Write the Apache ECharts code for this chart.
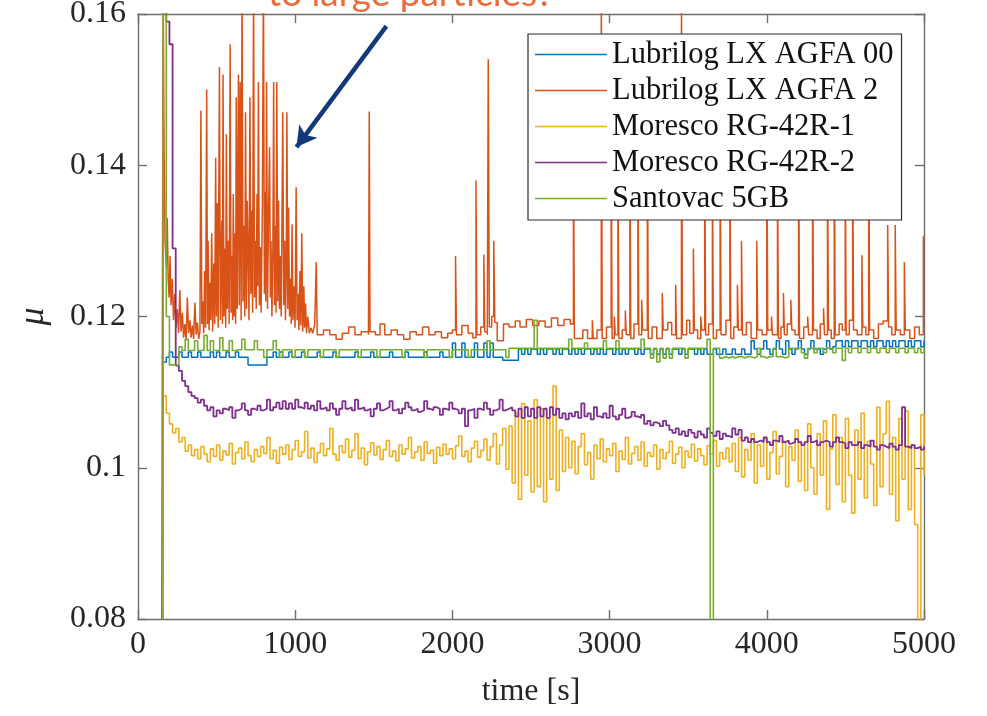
<!DOCTYPE html>
<html><head><meta charset="utf-8">
<script src="https://cdn.jsdelivr.net/npm/echarts@6/dist/echarts.min.js"></script>
<style>html,body{margin:0;padding:0;background:#fff}#c{width:987px;height:716px}</style>
</head><body><div id="c"></div>
<script>
// sample times [s] shared by four traces
const times = [140,
160,180,200,220,240,260,280,300,320,340,
360,380,400,420,440,460,480,500,520,540,
560,580,600,620,640,660,680,700,720,740,
760,780,800,820,840,860,880,900,920,940,
960,980,1000,1020,1040,1060,1080,1100,1120,1140,
1160,1180,1200,1220,1240,1260,1280,1300,1320,1340,
1360,1380,1400,1420,1440,1460,1480,1500,1520,1540,
1560,1580,1600,1620,1640,1660,1680,1700,1720,1740,
1760,1780,1800,1820,1840,1860,1880,1900,1920,1940,
1960,1980,2000,2020,2040,2060,2080,2100,2120,2140,
2160,2180,2200,2220,2240,2260,2280,2300,2320,2340,
2360,2380,2400,2420,2440,2460,2480,2500,2520,2540,
2560,2580,2600,2620,2640,2660,2680,2700,2720,2740,
2760,2780,2800,2820,2840,2860,2880,2900,2920,2940,
2960,2980,3000,3020,3040,3060,3080,3100,3120,3140,
3160,3180,3200,3220,3240,3260,3280,3300,3320,3340,
3360,3380,3400,3420,3440,3460,3480,3500,3520,3540,
3560,3580,3600,3620,3640,3660,3680,3700,3720,3740,
3760,3780,3800,3820,3840,3860,3880,3900,3920,3940,
3960,3980,4000,4020,4040,4060,4080,4100,4120,4140,
4160,4180,4200,4220,4240,4260,4280,4300,4320,4340,
4360,4380,4400,4420,4440,4460,4480,4500,4520,4540,
4560,4580,4600,4620,4640,4660,4680,4700,4720,4740,
4760,4780,4800,4820,4840,4860,4880,4900,4920,4940,
4960,4980,5000];

const seriesNames = ['Lubrilog LX AGFA 00','Lubrilog LX AGFA 2','Moresco RG-42R-1','Moresco RG-42R-2','Santovac 5GB'];
const seriesColors = ['#0072BD','#D95319','#EDB120','#7E2F8E','#77AC30'];

const agfa00 = [null,
0.1140,0.1146,0.1153,0.1146,0.1146,0.1153,0.1146,0.1146,0.1153,0.1146,
0.1146,0.1153,0.1146,0.1146,0.1146,0.1153,0.1146,0.1153,0.1146,0.1146,
0.1153,0.1146,0.1146,0.1153,0.1146,0.1146,0.1146,0.1136,0.1136,0.1136,
0.1136,0.1136,0.1136,0.1146,0.1146,0.1153,0.1146,0.1153,0.1146,0.1146,
0.1153,0.1146,0.1146,0.1146,0.1153,0.1146,0.1146,0.1146,0.1146,0.1153,
0.1146,0.1146,0.1146,0.1146,0.1153,0.1146,0.1146,0.1146,0.1146,0.1146,
0.1146,0.1153,0.1146,0.1146,0.1146,0.1146,0.1153,0.1146,0.1146,0.1146,
0.1146,0.1146,0.1153,0.1146,0.1146,0.1146,0.1146,0.1153,0.1146,0.1146,
0.1146,0.1146,0.1146,0.1153,0.1146,0.1146,0.1146,0.1146,0.1153,0.1146,
0.1146,0.1146,0.1165,0.1146,0.1146,0.1165,0.1146,0.1146,0.1146,0.1165,
0.1146,0.1146,0.1165,0.1146,0.1165,0.1146,0.1146,0.1146,0.1142,0.1142,
0.1142,0.1142,0.1142,0.1157,0.1150,0.1157,0.1150,0.1157,0.1157,0.1150,
0.1157,0.1150,0.1157,0.1157,0.1150,0.1157,0.1150,0.1157,0.1157,0.1150,
0.1157,0.1150,0.1157,0.1150,0.1157,0.1157,0.1150,0.1157,0.1150,0.1157,
0.1150,0.1157,0.1157,0.1150,0.1157,0.1150,0.1157,0.1150,0.1157,0.1157,
0.1150,0.1157,0.1150,0.1157,0.1157,0.1150,0.1157,0.1150,0.1157,0.1150,
0.1157,0.1150,0.1157,0.1157,0.1150,0.1157,0.1150,0.1157,0.1157,0.1150,
0.1157,0.1150,0.1157,0.1150,0.1150,0.1157,0.1150,0.1150,0.1157,0.1150,
0.1150,0.1157,0.1150,0.1150,0.1157,0.1150,0.1150,0.1168,0.1157,0.1150,
0.1157,0.1168,0.1157,0.1150,0.1157,0.1168,0.1157,0.1150,0.1168,0.1157,
0.1150,0.1157,0.1168,0.1157,0.1150,0.1157,0.1168,0.1157,0.1157,0.1150,
0.1157,0.1168,0.1157,0.1160,0.1168,0.1168,0.1160,0.1168,0.1160,0.1168,
0.1168,0.1160,0.1168,0.1168,0.1160,0.1168,0.1160,0.1168,0.1168,0.1160,
0.1168,0.1160,0.1168,0.1160,0.1168,0.1168,0.1160,0.1168,0.1160,0.1168,
0.1168,0.1160,0.1168];

// [time, mu] pairs for the spiky trace
const agfa2 = [
[150,0.0700],[160,0.1650],[166,0.1420],[172,0.1300],[180,0.1265],[186,0.1330],[192,0.1250],[198,0.1225],[204,0.1280],[210,0.1215],
[218,0.1250],[226,0.1195],[234,0.1230],[242,0.1185],[250,0.1210],[258,0.1178],[266,0.1235],[274,0.1180],[282,0.1205],[290,0.1172],
[298,0.1190],[306,0.1168],[314,0.1225],[322,0.1178],[330,0.1195],[338,0.1172],[346,0.1188],[354,0.1170],[362,0.1218],[370,0.1176],
[378,0.1192],[386,0.1170],[394,0.1180],[400,0.1472],[406,0.1190],[412,0.1220],[418,0.1178],[424,0.1260],[430,0.1185],[437,0.1500],
[442,0.1190],[446,0.1300],[452,0.1182],[458,0.1245],[463,0.1195],[469,0.1310],[475,0.1180],[482,0.1270],[488,0.1190],[494,0.1410],
[499,0.1200],[504,0.1350],[510,0.1185],[518,0.1530],[524,0.1195],[533,0.1327],[537,0.1190],[541,0.1520],[547,0.1200],[554,0.1290],
[558,0.1185],[562,0.1441],[568,0.1210],[575,0.1300],[580,0.1190],[586,0.1560],[592,0.1205],[598,0.1280],[602,0.1195],[606,0.1362],
[612,0.1200],[618,0.1310],[621,0.1190],[625,0.1490],[631,0.1210],[639,0.1520],[644,0.1215],[650,0.1510],[656,0.1195],[662,0.1650],
[668,0.1220],[675,0.1320],[679,0.1200],[684,0.1470],[690,0.1210],[695,0.1353],[701,0.1278],[706,0.1195],[712,0.1490],[718,0.1230],
[724,0.1340],[729,0.1205],[735,0.1650],[741,0.1225],[748,0.1300],[752,0.1210],[757,0.1362],[761,0.1240],[766,0.1510],[772,0.1215],
[778,0.1292],[783,0.1205],[791,0.1340],[798,0.1650],[804,0.1230],[809,0.1365],[813,0.1220],[818,0.1510],[824,0.1210],[830,0.1330],
[837,0.1424],[842,0.1225],[846,0.1300],[852,0.1200],[858,0.1290],[863,0.1510],[868,0.1215],[874,0.1320],[878,0.1205],[883,0.1510],
[889,0.1220],[894,0.1353],[900,0.1210],[906,0.1280],[911,0.1200],[916,0.1331],[921,0.1470],[927,0.1215],[933,0.1300],[938,0.1195],
[943,0.1260],[947,0.1470],[953,0.1210],[958,0.1344],[964,0.1200],[970,0.1250],[975,0.1190],[980,0.1322],[986,0.1195],[993,0.1240],
[999,0.1185],[1006,0.1371],[1012,0.1195],[1018,0.1230],[1024,0.1182],[1030,0.1260],[1036,0.1188],[1042,0.1310],[1048,0.1180],[1055,0.1240],
[1060,0.1185],[1066,0.1217],[1072,0.1178],[1080,0.1200],[1090,0.1178],[1100,0.1185],[1112,0.1178],[1124,0.1190],[1134,0.1272],[1140,0.1176],
[1180,0.1182],[1220,0.1176],[1260,0.1170],[1300,0.1178],[1340,0.1186],[1380,0.1176],[1420,0.1180],[1466,0.1176],[1471,0.1471],[1476,0.1180],
[1510,0.1176],[1540,0.1190],[1570,0.1176],[1610,0.1182],[1650,0.1176],[1690,0.1170],[1730,0.1180],[1770,0.1176],[1810,0.1186],[1850,0.1176],
[1890,0.1180],[1930,0.1172],[1970,0.1178],[2000,0.1182],[2020,0.1280],[2026,0.1176],[2060,0.1188],[2100,0.1178],[2130,0.1172],[2150,0.1380],
[2156,0.1176],[2180,0.1186],[2200,0.1282],[2206,0.1180],[2222,0.1176],[2228,0.1540],[2235,0.1186],[2250,0.1200],[2263,0.1300],[2270,0.1192],
[2285,0.1168],[2325,0.1190],[2360,0.1186],[2400,0.1194],[2430,0.1186],[2470,0.1196],[2510,0.1188],[2550,0.1194],[2590,0.1186],[2630,0.1198],
[2670,0.1188],[2710,0.1196],[2750,0.1190],[2770,0.1450],[2776,0.1171],[2800,0.1171],[2830,0.1182],[2860,0.1171],[2890,0.1195],[2896,0.1171],
[2920,0.1182],[2947,0.1650],[2953,0.1171],[2980,0.1186],[3010,0.1460],[3016,0.1171],[3030,0.1200],[3036,0.1176],[3053,0.1420],[3059,0.1171],
[3080,0.1182],[3100,0.1208],[3106,0.1176],[3129,0.1480],[3135,0.1171],[3155,0.1190],[3180,0.1430],[3186,0.1176],[3204,0.1222],[3210,0.1182],
[3240,0.1500],[3246,0.1171],[3270,0.1186],[3300,0.1171],[3335,0.1231],[3341,0.1182],[3370,0.1192],[3395,0.1176],[3420,0.1242],[3426,0.1171],
[3457,0.1650],[3463,0.1176],[3490,0.1195],[3510,0.1178],[3533,0.1290],[3539,0.1182],[3560,0.1171],[3580,0.1200],[3586,0.1182],[3605,0.1450],
[3611,0.1176],[3630,0.1190],[3654,0.1410],[3660,0.1171],[3680,0.1182],[3703,0.1480],[3709,0.1176],[3740,0.1195],[3765,0.1440],[3771,0.1171],
[3790,0.1186],[3813,0.1242],[3819,0.1182],[3839,0.1300],[3845,0.1176],[3870,0.1192],[3900,0.1171],[3936,0.1300],[3942,0.1182],[3970,0.1176],
[4000,0.1460],[4006,0.1182],[4030,0.1200],[4036,0.1176],[4068,0.1420],[4074,0.1171],[4090,0.1186],[4106,0.1231],[4112,0.1176],[4130,0.1190],
[4153,0.1222],[4159,0.1182],[4180,0.1176],[4202,0.1500],[4208,0.1171],[4235,0.1186],[4260,0.1200],[4266,0.1176],[4291,0.1460],[4297,0.1182],
[4320,0.1171],[4340,0.1190],[4361,0.1211],[4367,0.1176],[4386,0.1440],[4392,0.1182],[4410,0.1171],[4429,0.1480],[4435,0.1176],[4460,0.1190],
[4480,0.1182],[4499,0.1420],[4505,0.1176],[4525,0.1195],[4546,0.1450],[4552,0.1182],[4575,0.1176],[4605,0.1281],[4611,0.1186],[4630,0.1176],
[4648,0.1500],[4654,0.1182],[4680,0.1171],[4710,0.1190],[4740,0.1194],[4769,0.1321],[4775,0.1186],[4795,0.1176],[4817,0.1321],[4823,0.1182],
[4850,0.1176],[4875,0.1272],[4881,0.1182],[4910,0.1171],[4940,0.1186],[4970,0.1176],[4996,0.1306],[5000,0.1306]];

const rg42r1 = [null,
0.1095,0.1072,0.1058,0.1046,0.1052,0.1034,0.1040,0.1022,0.1030,0.1016,
0.1024,0.1012,0.1028,0.1018,0.1008,0.1025,0.1015,0.1030,0.1010,0.1022,
0.1017,0.1032,0.1005,0.1020,0.1026,0.1012,0.1034,0.1016,0.1008,0.1024,
0.1015,0.1028,0.1019,0.1040,0.1012,0.1023,0.1006,0.1027,0.1018,0.1030,
0.1011,0.1024,0.1036,0.1015,0.1021,0.1048,0.1013,0.1026,0.1007,0.1020,
0.1032,0.1016,0.1025,0.1052,0.1018,0.1010,0.1029,0.1020,0.1038,0.1014,
0.1023,0.1045,0.1012,0.1026,0.1004,0.1021,0.1033,0.1017,0.1028,0.1011,
0.1024,0.1036,0.1015,0.1022,0.1009,0.1030,0.1018,0.1025,0.1040,0.1013,
0.1021,0.1028,0.1010,0.1034,0.1019,0.1023,0.1006,0.1027,0.1016,0.1031,
0.1018,0.1025,0.1012,0.1029,0.1042,0.1015,0.1022,0.1008,0.1026,0.1035,
0.1014,0.1023,0.1038,0.1010,0.1028,0.1045,0.1005,0.1030,0.1052,0.0998,
0.1055,0.0980,0.1072,0.0958,0.1085,0.0990,0.1062,0.0968,0.1090,0.0975,
0.1078,0.0955,0.1065,0.0985,0.1108,0.0970,0.1050,0.0995,0.1040,0.1000,
0.1035,0.0992,0.1028,0.1045,0.1004,0.1020,0.0985,0.1030,0.1012,0.1038,
0.1008,0.1025,0.1016,0.1032,0.0995,0.1022,0.1011,0.1040,0.1005,0.1019,
0.1028,0.1010,0.1034,0.1002,0.1020,0.1015,0.1030,0.0998,0.1024,0.1012,
0.1020,0.1035,0.1006,0.1018,0.1027,0.1000,0.1022,0.1014,0.1031,0.1009,
0.1025,0.1016,0.1004,0.1029,0.1018,0.1036,0.1002,0.1020,0.1012,0.1026,
0.1008,0.1032,0.0995,0.1040,0.0988,0.1024,0.1010,0.1045,0.0980,0.1030,
0.1002,0.1038,0.0985,0.1020,0.1048,0.0992,0.1015,0.1035,0.0975,0.1028,
0.1010,0.1050,0.0982,0.1030,0.0970,0.1058,0.1000,0.0965,0.1045,0.0990,
0.1062,0.0945,0.1025,0.1070,0.0978,0.1040,0.0955,0.1065,0.0990,0.0940,
0.1050,0.0985,0.1072,0.0960,0.1035,0.1005,0.0950,0.1080,0.0975,0.1045,
0.1088,0.0965,0.1040,0.0930,0.1065,0.0985,0.1075,0.0945,0.1030,0.0925,
0.0790,0.1070,0.0990];

const rg42r2 = [null,
0.1650,0.1590,0.1560,0.1290,0.1135,0.1128,0.1115,0.1108,0.1100,0.1095,
0.1092,0.1086,0.1090,0.1082,0.1076,0.1080,0.1068,0.1076,0.1072,0.1078,
0.1076,0.1080,0.1066,0.1076,0.1078,0.1085,0.1076,0.1070,0.1078,0.1076,
0.1082,0.1076,0.1078,0.1090,0.1076,0.1080,0.1086,0.1078,0.1088,0.1078,
0.1085,0.1078,0.1090,0.1080,0.1078,0.1086,0.1078,0.1082,0.1076,0.1088,
0.1078,0.1080,0.1076,0.1085,0.1078,0.1070,0.1078,0.1088,0.1078,0.1080,
0.1076,0.1090,0.1078,0.1080,0.1076,0.1078,0.1068,0.1078,0.1085,0.1076,
0.1078,0.1080,0.1088,0.1076,0.1078,0.1072,0.1078,0.1086,0.1080,0.1076,
0.1078,0.1074,0.1076,0.1088,0.1078,0.1076,0.1080,0.1078,0.1070,0.1078,
0.1076,0.1086,0.1078,0.1076,0.1072,0.1078,0.1055,0.1076,0.1078,0.1066,
0.1078,0.1076,0.1086,0.1078,0.1070,0.1076,0.1078,0.1090,0.1076,0.1078,
0.1080,0.1076,0.1068,0.1078,0.1066,0.1080,0.1068,0.1078,0.1066,0.1080,
0.1068,0.1078,0.1066,0.1080,0.1070,0.1078,0.1066,0.1072,0.1064,0.1072,
0.1068,0.1074,0.1066,0.1085,0.1068,0.1072,0.1064,0.1080,0.1068,0.1066,
0.1072,0.1066,0.1082,0.1068,0.1064,0.1070,0.1078,0.1066,0.1068,0.1074,
0.1068,0.1066,0.1070,0.1058,0.1062,0.1056,0.1060,0.1058,0.1055,0.1062,
0.1056,0.1050,0.1046,0.1052,0.1044,0.1048,0.1042,0.1050,0.1046,0.1040,
0.1048,0.1044,0.1040,0.1052,0.1046,0.1042,0.1048,0.1038,0.1045,0.1042,
0.1040,0.1052,0.1044,0.1050,0.1036,0.1040,0.1034,0.1038,0.1034,0.1036,
0.1034,0.1040,0.1034,0.1030,0.1036,0.1034,0.1042,0.1034,0.1036,0.1032,
0.1034,0.1038,0.1034,0.1030,0.1034,0.1042,0.1034,0.1036,0.1030,0.1034,
0.1036,0.1034,0.1028,0.1034,0.1040,0.1034,0.1032,0.1026,0.1034,0.1030,
0.1030,0.1034,0.1026,0.1030,0.1028,0.1036,0.1028,0.1024,0.1030,0.1028,
0.1026,0.1032,0.1028,0.1024,0.1030,0.1080,0.1028,0.1026,0.1030,0.1026,
0.1028,0.1024,0.1028];

const santovac = [0.0750,
0.1650,0.1200,0.1136,0.1136,0.1136,0.1160,0.1155,0.1170,0.1155,0.1155,
0.1168,0.1155,0.1155,0.1175,0.1155,0.1168,0.1155,0.1155,0.1172,0.1155,
0.1155,0.1168,0.1155,0.1156,0.1156,0.1170,0.1156,0.1156,0.1156,0.1168,
0.1156,0.1156,0.1146,0.1156,0.1156,0.1168,0.1156,0.1146,0.1156,0.1156,
0.1156,0.1146,0.1156,0.1156,0.1156,0.1146,0.1156,0.1156,0.1156,0.1156,
0.1146,0.1156,0.1156,0.1156,0.1156,0.1146,0.1156,0.1156,0.1156,0.1156,
0.1156,0.1156,0.1146,0.1156,0.1156,0.1156,0.1156,0.1156,0.1146,0.1156,
0.1156,0.1156,0.1156,0.1156,0.1156,0.1156,0.1146,0.1156,0.1156,0.1156,
0.1156,0.1156,0.1156,0.1146,0.1156,0.1156,0.1156,0.1156,0.1156,0.1156,
0.1156,0.1146,0.1156,0.1156,0.1156,0.1156,0.1156,0.1146,0.1156,0.1156,
0.1156,0.1156,0.1156,0.1168,0.1156,0.1156,0.1156,0.1156,0.1156,0.1146,
0.1158,0.1158,0.1158,0.1158,0.1158,0.1158,0.1158,0.1158,0.1195,0.1158,
0.1158,0.1158,0.1158,0.1158,0.1158,0.1158,0.1158,0.1158,0.1158,0.1170,
0.1158,0.1158,0.1158,0.1158,0.1165,0.1158,0.1158,0.1158,0.1158,0.1158,
0.1168,0.1158,0.1158,0.1158,0.1168,0.1158,0.1158,0.1158,0.1158,0.1158,
0.1158,0.1158,0.1170,0.1158,0.1158,0.1145,0.1158,0.1140,0.1158,0.1145,
0.1158,0.1145,0.1158,0.1158,0.1158,0.1158,0.1145,0.1158,0.1158,0.1158,
0.1158,0.1158,0.1158,0.1170,0.0750,0.1158,0.1158,0.1145,0.1147,0.1145,
0.1147,0.1145,0.1147,0.1147,0.1145,0.1147,0.1147,0.1145,0.1147,0.1158,
0.1147,0.1145,0.1147,0.1147,0.1158,0.1147,0.1147,0.1145,0.1147,0.1158,
0.1158,0.1158,0.1158,0.1152,0.1145,0.1158,0.1158,0.1152,0.1158,0.1158,
0.1152,0.1158,0.1158,0.1152,0.1158,0.1158,0.1142,0.1158,0.1152,0.1158,
0.1158,0.1152,0.1158,0.1158,0.1152,0.1158,0.1158,0.1152,0.1158,0.1158,
0.1152,0.1158,0.1158,0.1152,0.1158,0.1158,0.1152,0.1158,0.1158,0.1152,
0.1158,0.1152,0.1158];

const xRange = [0, 5000], xStep = 1000;
const yRange = [0.08, 0.16], yStep = 0.02;
const annotationText = 'to large particles?';
const arrowFrom = [1580, 0.1584];
const arrowTo = [1008, 0.1424];

const chart = echarts.init(document.getElementById('c'), null, {renderer: 'canvas'});
const serif = 'Liberation Serif';
const axisCol = '#6e6e6e';
const txtCol = '#262626';

function pairs(vals) { return times.map((t, i) => [t, vals[i]]); }

const baseAxis = {
  type: 'value',
  axisLine: {show: true, onZero: false, lineStyle: {color: axisCol, width: 1.4}},
  axisTick: {show: true, inside: true, length: 9, lineStyle: {color: axisCol, width: 1.4}},
  splitLine: {show: false}
};

const traces = [pairs(agfa00), agfa2, pairs(rg42r1), pairs(rg42r2), pairs(santovac)];
const widths = [1.5, 1.5, 1.6, 1.8, 1.6];

const series = traces.map((d, k) => ({
  type: 'line', showSymbol: false, symbol: 'none', step: 'end',
  clip: true, animation: false, connectNulls: false,
  name: seriesNames[k],
  data: d,
  color: seriesColors[k],
  lineStyle: {color: seriesColors[k], width: widths[k]},
  z: 2
}));

series[1].markLine = {
  silent: true,
  animation: false,
  symbol: ['none', 'arrow'],
  symbolSize: [17, 20],
  label: {show: false},
  lineStyle: {color: '#12397a', width: 4.5, type: 'solid'},
  itemStyle: {color: '#12397a'},
  emphasis: {disabled: true},
  data: [[{coord: arrowFrom}, {coord: arrowTo}]]
};

chart.setOption({
  animation: false,
  backgroundColor: '#ffffff',
  grid: {left: 138, right: 63, top: 14, bottom: 97, outerBoundsMode: 'none', containLabel: false},
  xAxis: [
    Object.assign({}, baseAxis, {
      min: xRange[0], max: xRange[1], interval: xStep, position: 'bottom',
      axisLabel: {fontFamily: serif, fontSize: 32, color: txtCol, margin: 10, formatter: v => String(v)},
      name: 'time [s]', nameLocation: 'middle', nameGap: 57,
      nameTextStyle: {fontFamily: serif, fontSize: 32, color: txtCol}
    }),
    Object.assign({}, baseAxis, {
      min: xRange[0], max: xRange[1], interval: xStep, position: 'top',
      axisLabel: {show: false}
    })
  ],
  yAxis: [
    Object.assign({}, baseAxis, {
      min: yRange[0], max: yRange[1], interval: yStep, position: 'left',
      axisLabel: {fontFamily: serif, fontSize: 32, color: txtCol, margin: 12},
      name: 'μ', nameLocation: 'middle', nameGap: 86,
      nameTextStyle: {fontFamily: serif, fontSize: 36, fontStyle: 'italic', color: txtCol}
    }),
    Object.assign({}, baseAxis, {
      min: yRange[0], max: yRange[1], interval: yStep, position: 'right',
      axisLabel: {show: false}
    })
  ],
  legend: {
    show: true,
    selectedMode: false,
    orient: 'vertical',
    left: 528, top: 34,
    padding: [5, 8, 6, 7],
    itemGap: 5,
    icon: 'rect',
    itemWidth: 72, itemHeight: 1.5,
    backgroundColor: '#ffffff',
    borderColor: '#2b2b2b', borderWidth: 1.2, borderRadius: 0,
    textStyle: {fontFamily: serif, fontSize: 30.5, color: '#111', lineHeight: 30},
    data: seriesNames.map(n => ({name: n}))
  },
  graphic: [{
    type: 'text', left: 268, top: -24, z: 100,
    style: {text: annotationText, font: '37px Lato', fill: '#EC6A3C'}
  }],
  series: series
});
</script>
</body></html>
